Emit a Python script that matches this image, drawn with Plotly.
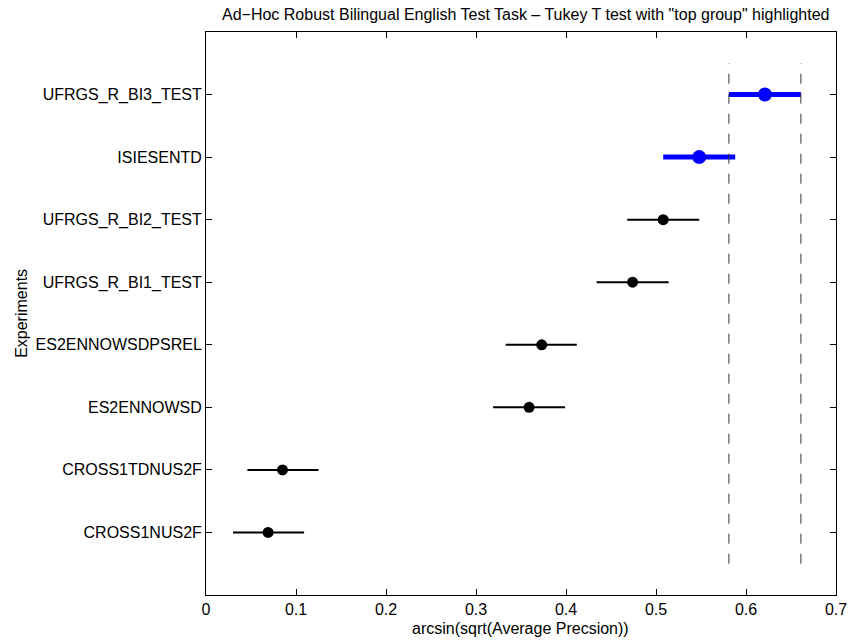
import plotly.graph_objects as go

categories = ["CROSS1NUS2F", "CROSS1TDNUS2F", "ES2ENNOWSD", "ES2ENNOWSDPSREL",
              "UFRGS_R_BI1_TEST", "UFRGS_R_BI2_TEST", "ISIESENTD", "UFRGS_R_BI3_TEST"]
means = [0.069, 0.085, 0.359, 0.373, 0.474, 0.508, 0.548, 0.621]
lows = [0.030, 0.046, 0.319, 0.333, 0.434, 0.468, 0.508, 0.581]
highs = [0.109, 0.125, 0.399, 0.412, 0.514, 0.548, 0.588, 0.661]
top_group = [False, False, False, False, False, False, True, True]
x_ticks = [0, 0.1, 0.2, 0.3, 0.4, 0.5, 0.6, 0.7]
x_ticklabels = ["0", "0.1", "0.2", "0.3", "0.4", "0.5", "0.6", "0.7"]

W, H = 859, 643
L, R, T, B = 206, 15, 32, 48
pw, ph = W - L - R, H - T - B
FONT = "Liberation Sans, Arial, Helvetica, sans-serif"
FS = 16

ypos = list(range(1, len(categories) + 1))

fig = go.Figure()

def add_group(flag, color, lw, msize):
    idx = [i for i in range(len(categories)) if top_group[i] == flag]
    fig.add_trace(go.Scatter(
        x=[means[i] for i in idx],
        y=[ypos[i] for i in idx],
        mode="markers",
        marker=dict(color=color, size=msize, line=dict(width=0)),
        error_x=dict(type="data", symmetric=False,
                     array=[highs[i] - means[i] for i in idx],
                     arrayminus=[means[i] - lows[i] for i in idx],
                     color=color, thickness=lw, width=0),
        showlegend=False, hoverinfo="skip"))

add_group(False, "black", 2, 11)
add_group(True, "#0000FF", 5, 14)

# vertical dashed lines at the best group's interval
best = means.index(max(means))
for xv in (lows[best], highs[best]):
    fig.add_shape(type="line", xref="x", yref="y", x0=xv, x1=xv, y0=0.5, y1=len(categories) + 0.5,
                  line=dict(color="#333333", width=1, dash="10px,10px"))

fig.update_layout(
    width=W, height=H,
    margin=dict(l=L, r=R, t=T, b=B),
    paper_bgcolor="white", plot_bgcolor="white",
    font=dict(family=FONT, size=FS, color="black"),
    xaxis=dict(range=[0, 0.7], tickvals=x_ticks, ticktext=x_ticklabels,
               ticks="inside", ticklen=6, tickcolor="black", tickwidth=1,
               showline=True, linecolor="black", linewidth=1, mirror="ticks",
               showgrid=False, zeroline=False, tickfont=dict(size=FS)),
    yaxis=dict(range=[0, len(categories) + 1], tickvals=ypos, ticktext=categories,
               ticks="inside", ticklen=6, tickcolor="black", tickwidth=1,
               showline=True, linecolor="black", linewidth=1, mirror="ticks",
               showgrid=False, zeroline=False, tickfont=dict(size=FS)),
    annotations=[
        dict(text='Ad\u2212Hoc Robust Bilingual English Test Task \u2013 Tukey T test with "top group" highlighted',
             xref="paper", yref="paper", x=(530 - L) / pw, y=1 + (T - 15) / ph, xanchor="center", yanchor="middle",
             showarrow=False, font=dict(size=FS)),
        dict(text="arcsin(sqrt(Average Precsion))", xref="paper", yref="paper",
             x=(524 - L) / pw, y=-(628 - (T + ph)) / ph, xanchor="center", yanchor="middle",
             showarrow=False, font=dict(size=FS)),
        dict(text="Experiments", xref="paper", yref="paper", textangle=-90,
             x=(19 - L) / pw, y=0.5, xanchor="center", yanchor="middle",
             showarrow=False, font=dict(size=FS)),
    ],
)

fig.write_html("out.html")
